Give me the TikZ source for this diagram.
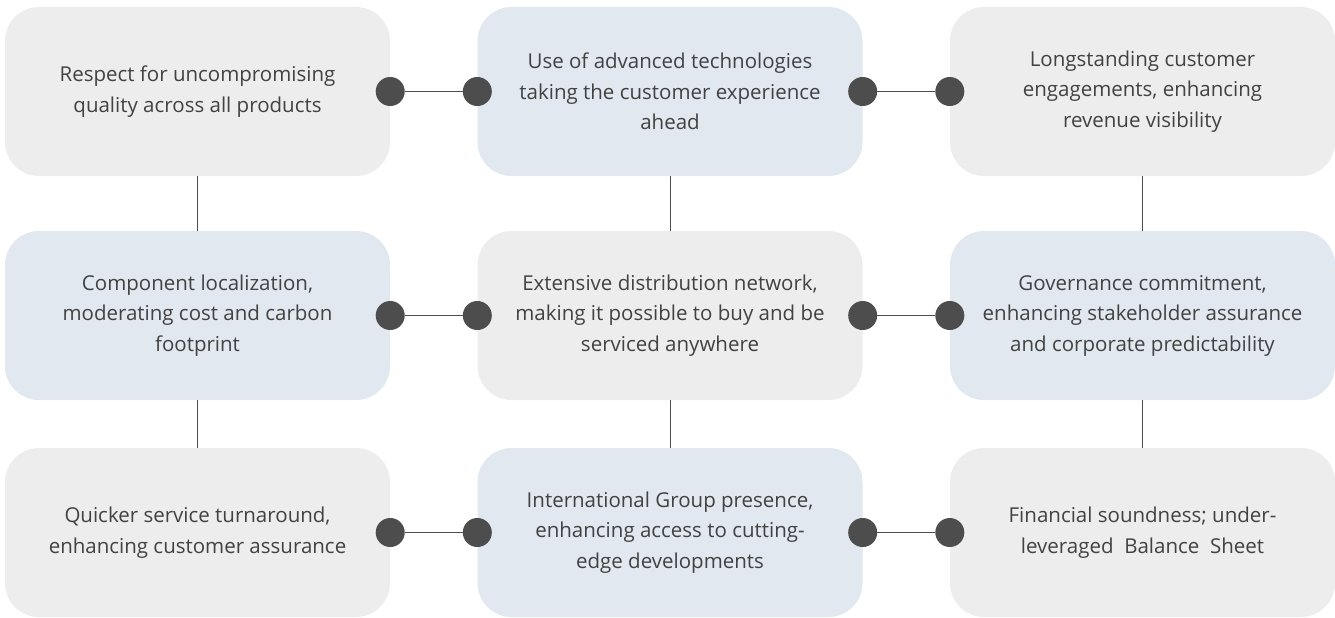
\documentclass[tikz,border=0pt]{standalone}
\usepackage{fontspec}
\setmainfont{Open Sans}
\definecolor{boxgray}{HTML}{EDEDED}
\definecolor{boxblue}{HTML}{E1E8EF}
\definecolor{dotc}{HTML}{4D4D4D}
\definecolor{txt}{HTML}{424242}
\begin{document}
\begin{tikzpicture}[x=1pt,y=-1pt,
  card/.style={rounded corners=34pt, minimum width=385pt, minimum height=169pt, inner sep=0pt,
    align=center, text=txt, font=\fontsize{20.5}{30.5}\selectfont},
  gcard/.style={card, fill=boxgray},
  bcard/.style={card, fill=boxblue},
  dot/.style={circle, fill=dotc, minimum size=29pt, inner sep=0pt},
  link/.style={draw=dotc, line width=0.8pt}]
\useasboundingbox (0,0) rectangle (1335,618);
% boxes
\node[gcard] (b11) at (197.5,91.5) {Respect for uncompromising\\quality across all products};
\node[bcard] (b12) at (670,91.5) {Use of advanced technologies\\taking the customer experience\\ahead};
\node[gcard] (b13) at (1142.5,91.5) {Longstanding customer\\engagements, enhancing\\revenue visibility};
\node[bcard] (b21) at (197.5,315.5) {Component localization,\\moderating cost and carbon\\footprint};
\node[gcard] (b22) at (670,315.5) {Extensive distribution network,\\making it possible to buy and be\\serviced anywhere};
\node[bcard] (b23) at (1142.5,315.5) {Governance commitment,\\enhancing stakeholder assurance\\and corporate predictability};
\node[gcard] (b31) at (197.5,532.5) {Quicker service turnaround,\\enhancing customer assurance};
\node[bcard] (b32) at (670,532.5) {International Group presence,\\enhancing access to cutting-\\edge developments};
\node[gcard] (b33) at (1142.5,532.5) {Financial soundness; under-\\leveraged~~Balance~~Sheet};
% vertical connectors
\foreach \c in {1,2,3}{
  \draw[link] (b1\c.south) -- (b2\c.north);
  \draw[link] (b2\c.south) -- (b3\c.north);
}
% dots and horizontal connectors
\foreach \r in {1,2,3}{
  \node[dot] (d\r a) at (b\r1.east) {};
  \node[dot] (d\r b) at (b\r2.west) {};
  \node[dot] (d\r c) at (b\r2.east) {};
  \node[dot] (d\r d) at (b\r3.west) {};
  \draw[link] (d\r a) -- (d\r b);
  \draw[link] (d\r c) -- (d\r d);
}
\end{tikzpicture}
\end{document}
